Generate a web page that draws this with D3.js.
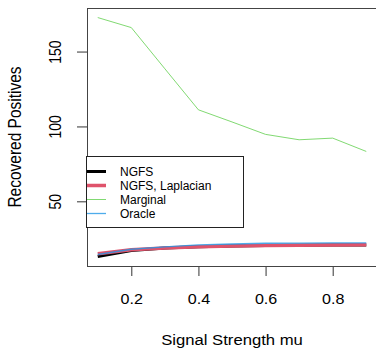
<!DOCTYPE html>
<html lang="en">
<head>
    <meta charset="UTF-8">
    <title>Recovered Positives vs Signal Strength</title>
    <script src="https://d3js.org/d3.v7.min.js"></script>
    <style>
        body { margin: 0; background: #fff; overflow: hidden; }
        text { font-family: "Liberation Sans", Arial, sans-serif; fill: #000; }
    </style>
</head>
<body>
    <div id="chart"></div>
    <script>
        // values
        const mu = [0.1, 0.2, 0.3, 0.4, 0.5, 0.6, 0.7, 0.8, 0.9];
        const ngfs = [13.2, 17.2, 18.8, 19.7, 20.2, 20.5, 20.7, 20.8, 20.9];
        const ngfsLaplacian = [15.0, 17.6, 18.8, 19.7, 20.2, 20.5, 20.7, 20.8, 21.0];
        const marginal = [172.7, 166.0, 138.5, 111.1, 103.0, 94.7, 91.1, 92.2, 83.3];
        const oracle = [14.5, 18.0, 19.6, 20.9, 21.5, 22.0, 22.1, 22.2, 22.3];
        const xTicks = [0.2, 0.4, 0.6, 0.8];
        const yTicks = [50, 100, 150];
        const seriesNames = ["NGFS", "NGFS, Laplacian", "Marginal", "Oracle"];
        const seriesColors = ["#000000", "#DF536B", "#61D04F", "#2297E6"];
        const seriesWidths = [3, 3.5, 1, 1.3];

        const width = 376, height = 350;
        const margin = { top: 8, right: -1, bottom: 84, left: 87 };
        const sx = 1.15; // the reference text looks a bit stretched sideways

        const series = [ngfs, ngfsLaplacian, marginal, oracle].map((vals, i) => ({
            name: seriesNames[i],
            color: seriesColors[i],
            width: seriesWidths[i],
            data: mu.map((m, j) => ({ x: m, y: vals[j] }))
        }));

        // R style 4% padding on the data range
        const pad = (lo, hi) => [lo - 0.04 * (hi - lo), hi + 0.04 * (hi - lo)];
        const allY = series.flatMap(s => s.data.map(d => d.y));

        const x = d3.scaleLinear()
            .domain(pad(d3.min(mu), d3.max(mu)))
            .range([margin.left, width - margin.right]);
        const y = d3.scaleLinear()
            .domain(pad(d3.min(allY), d3.max(allY)))
            .range([height - margin.bottom, margin.top]);

        const svg = d3.select("#chart").append("svg")
            .attr("width", width)
            .attr("height", height);

        // x axis
        const xAxis = svg.append("g")
            .attr("transform", `translate(0,${height - margin.bottom})`)
            .call(d3.axisBottom(x).tickValues(xTicks).tickSize(10).tickFormat(d3.format(".1f")));
        xAxis.select(".domain").remove();
        xAxis.selectAll("line").attr("stroke", "#333");
        xAxis.selectAll("text")
            .attr("y", null).attr("dy", null)
            .attr("transform", `translate(0,33) scale(${sx},1)`)
            .attr("dominant-baseline", "central")
            .style("font-size", "14px");

        // y axis, labels rotated like base R
        const yAxis = svg.append("g")
            .attr("transform", `translate(${margin.left},0)`)
            .call(d3.axisLeft(y).tickValues(yTicks).tickSize(10));
        yAxis.select(".domain").remove();
        yAxis.selectAll("line").attr("stroke", "#333");
        yAxis.selectAll("text")
            .attr("x", null).attr("dy", null)
            .attr("transform", `translate(-32,0) scale(${sx},1) rotate(-90)`)
            .attr("text-anchor", "middle")
            .attr("dominant-baseline", "central")
            .style("font-size", "14px");

        // plot box
        svg.append("rect")
            .attr("x", margin.left + 0.5)
            .attr("y", margin.top + 0.5)
            .attr("width", width - margin.right - margin.left)
            .attr("height", height - margin.bottom - margin.top)
            .attr("fill", "none")
            .attr("stroke", "#444");

        const line = d3.line().x(d => x(d.x)).y(d => y(d.y));

        svg.selectAll(".series")
            .data(series)
            .enter().append("path")
            .attr("class", "series")
            .attr("d", d => line(d.data))
            .attr("fill", "none")
            .attr("stroke", d => d.color)
            .attr("stroke-width", d => d.width)
            .attr("stroke-opacity", d => d.width < 2 ? 0.8 : 1)
            .attr("stroke-linejoin", "round");

        // axis titles
        svg.append("text")
            .attr("transform", `translate(${(margin.left + width - margin.right) / 2},340) scale(${sx},1)`)
            .attr("text-anchor", "middle")
            .attr("dominant-baseline", "central")
            .style("font-size", "14.5px")
            .text("Signal Strength mu");

        svg.append("text")
            .attr("transform", `translate(15,${(margin.top + height - margin.bottom) / 2}) scale(${sx},1) rotate(-90)`)
            .attr("text-anchor", "middle")
            .attr("dominant-baseline", "central")
            .style("font-size", "15.5px")
            .text("Recovered Positives");

        // legend
        const legend = svg.append("g");
        legend.append("rect")
            .attr("x", 86.5).attr("y", 156.5)
            .attr("width", 157).attr("height", 71)
            .attr("fill", "#fff")
            .attr("stroke", "#222");

        const rows = legend.selectAll(".row")
            .data(series)
            .enter().append("g")
            .attr("transform", (d, i) => `translate(0,${171.5 + i * 14})`);
        rows.append("line")
            .attr("x1", 87).attr("x2", 106)
            .attr("stroke", d => d.color)
            .attr("stroke-width", d => d.width)
            .attr("stroke-opacity", d => d.width < 2 ? 0.8 : 1);
        rows.append("text")
            .attr("x", 120)
            .attr("dominant-baseline", "central")
            .style("font-size", "12px")
            .text(d => d.name);
    </script>
</body>
</html>
